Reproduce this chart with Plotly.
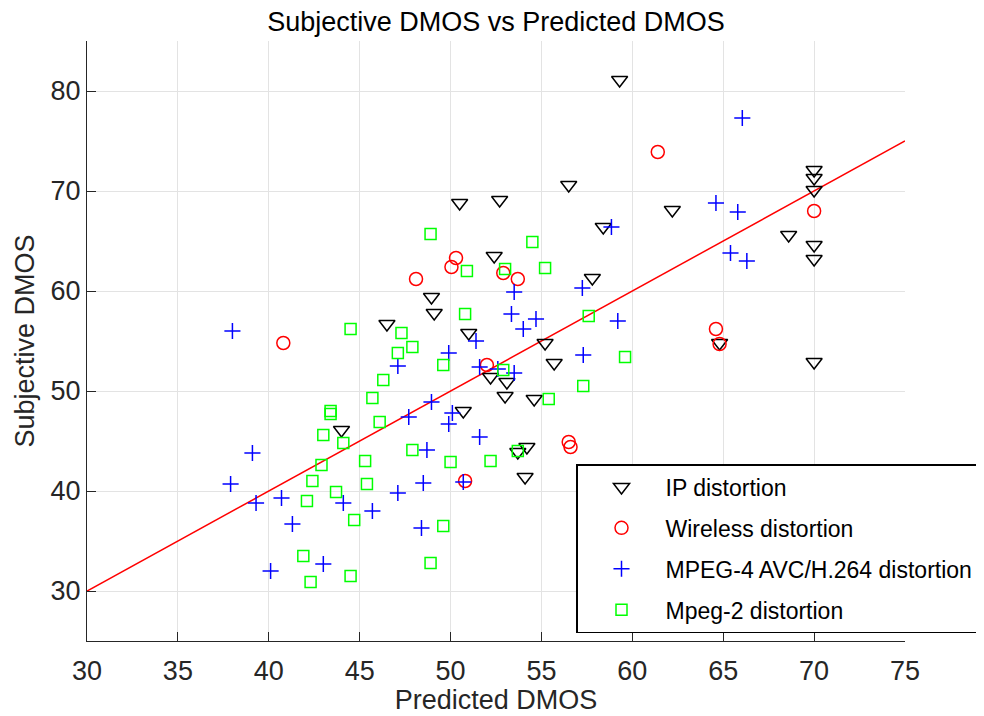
import plotly.graph_objects as go

# ---- data ----
ip_x = [59.3, 50.5, 52.7, 56.5, 58.4, 62.2, 52.4, 57.8, 48.95, 49.1, 46.5, 51.0, 55.2, 55.7,
        52.2, 53.1, 53.0, 54.6, 50.7, 54.2, 53.7, 54.1, 44.0, 70.0, 70.0, 70.0, 68.6, 70.0,
        70.0, 64.8, 70.0]
ip_y = [81.1, 68.8, 69.1, 70.6, 66.4, 68.1, 63.5, 61.3, 59.4, 57.8, 56.7, 55.8, 54.8, 52.8,
        51.4, 50.9, 49.5, 49.2, 48.0, 44.4, 43.9, 41.4, 46.1, 72.1, 71.3, 70.1, 65.6, 64.6,
        63.2, 54.8, 52.9]

wl_x = [61.4, 70.0, 40.8, 50.3, 50.05, 48.1, 52.9, 53.7, 52.0, 50.8, 56.5, 56.6, 64.6, 64.8]
wl_y = [73.9, 68.0, 54.8, 63.3, 62.4, 61.2, 61.8, 61.2, 52.6, 41.0, 44.9, 44.4, 56.2, 54.7]

h264_x = [66.05, 64.6, 65.8, 65.4, 66.3, 58.85, 57.25, 59.2, 57.3, 53.5, 53.35, 54.7, 54.0,
          51.4, 49.9, 51.6, 52.6, 53.5, 48.95, 47.7, 50.1, 49.9, 51.6, 48.7, 48.5, 50.7, 47.1,
          38.0, 39.1, 37.9, 39.3, 40.7, 41.3, 40.1, 43.0, 44.1, 45.7, 48.4, 47.1]
h264_y = [77.3, 68.8, 67.9, 63.8, 63.0, 66.4, 60.3, 57.0, 53.6, 59.9, 57.7, 57.2, 56.2,
          55.0, 53.8, 52.4, 52.2, 51.8, 48.9, 47.4, 47.8, 46.7, 45.4, 44.1, 40.8, 40.9, 39.8,
          56.0, 43.8, 40.7, 38.8, 39.3, 36.7, 32.0, 32.7, 38.8, 38.0, 36.3, 52.5]

mp2_x = [44.5, 47.3, 47.9, 47.1, 49.6, 46.3, 45.7, 43.4, 43.4, 46.1, 43.0, 44.1, 45.3, 42.9,
         47.9, 42.4, 45.4, 42.1, 43.7, 44.7, 49.6, 41.9, 42.3, 44.5, 48.9, 50.0, 48.9, 54.5,
         50.9, 53.0, 55.2, 50.8, 57.6, 59.6, 57.3, 55.4, 52.9, 52.2, 53.7]
mp2_y = [56.2, 55.8, 54.4, 53.8, 52.6, 51.1, 49.3, 48.0, 47.7, 46.9, 45.6, 44.8, 43.0, 42.6,
         44.1, 41.0, 40.7, 39.0, 39.9, 37.1, 36.5, 33.5, 30.9, 31.5, 32.8, 42.9, 65.7, 64.9,
         62.0, 62.2, 62.3, 57.7, 57.5, 53.4, 50.5, 49.2, 52.1, 43.0, 44.0]

fit_x = [30, 75]
fit_y = [30, 75]

x_ticks = [30, 35, 40, 45, 50, 55, 60, 65, 70, 75]
y_ticks = [30, 40, 50, 60, 70, 80]

FONT = "Liberation Sans, Arial, Helvetica, sans-serif"
AX = "#262626"

# page body has an 8px margin; plot area on screen: x 87..905, y 41..641
OFF = 8
W, H = 984 - OFF, 716 - OFF
L, T = 87 - OFF, 41 - OFF
PW, PH = 818, 600
R = W - L - PW
B = H - T - PH

fig = go.Figure()
fig.add_trace(go.Scatter(x=fit_x, y=fit_y, mode="lines", line=dict(color="#ff0000", width=1.5),
                         showlegend=False, hoverinfo="skip"))
fig.add_trace(go.Scatter(x=ip_x, y=ip_y, mode="markers", name="IP distortion", legendgroup="a",
                         marker=dict(symbol="triangle-down-open", size=14, color="#000000",
                                     line=dict(width=1.5, color="#000000"))))
fig.add_trace(go.Scatter(x=wl_x, y=wl_y, mode="markers", name="Wireless distortion", legendgroup="b",
                         marker=dict(symbol="circle-open", size=13, color="#ff0000",
                                     line=dict(width=1.5, color="#ff0000"))))
fig.add_trace(go.Scatter(x=h264_x, y=h264_y, mode="markers", name="MPEG-4 AVC/H.264 distortion",
                         legendgroup="c",
                         marker=dict(symbol="cross-thin-open", size=11.5, color="#0000ff",
                                     line=dict(width=1.5, color="#0000ff"))))
fig.add_trace(go.Scatter(x=mp2_x, y=mp2_y, mode="markers", name="Mpeg-2 distortion", legendgroup="d",
                         marker=dict(symbol="square-open", size=11, color="#00ff00",
                                     line=dict(width=1.5, color="#00ff00"))))

axis_common = dict(showline=True, linecolor=AX, linewidth=1.2, ticks="inside", ticklen=9,
                   tickcolor=AX, tickwidth=1.2, showgrid=True, gridcolor="#e3e3e3", gridwidth=1,
                   zeroline=False, tickfont=dict(family=FONT, size=27, color=AX),
                   mirror=False)

fig.update_layout(
    width=W, height=H,
    paper_bgcolor="white", plot_bgcolor="white",
    margin=dict(l=L, r=R, t=T, b=B, autoexpand=False),
    title=dict(text="Subjective DMOS vs Predicted DMOS", x=(L + PW / 2) / W, xanchor="center",
               y=1 - (22 - OFF) / H, yanchor="middle", font=dict(family=FONT, size=27, color="#000000")),
    xaxis=dict(range=[30, 75], tickvals=x_ticks, ticktext=[str(v) for v in x_ticks],
               ticklabelstandoff=5,
               title=dict(text="Predicted DMOS", font=dict(family=FONT, size=27, color=AX), standoff=2),
               **axis_common),
    yaxis=dict(range=[25, 85], tickvals=y_ticks, ticktext=[str(v) for v in y_ticks],
               title=dict(text="Subjective DMOS", font=dict(family=FONT, size=27, color=AX), standoff=8),
               **axis_common),
    legend=dict(x=(576 - 87) / PW, xanchor="left", y=(641 - 464) / PH, yanchor="top",
                bgcolor="white", bordercolor="#000000", borderwidth=1.5,
                font=dict(family=FONT, size=23, color="#000000"),
                itemwidth=78, tracegroupgap=8),
    showlegend=True,
)

fig.write_html("out.html")
